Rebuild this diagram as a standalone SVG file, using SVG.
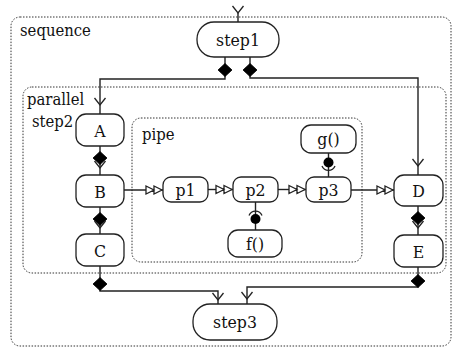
<svg xmlns="http://www.w3.org/2000/svg" width="454" height="348" viewBox="0 0 454 348">
<style>
text{font-family:'DejaVu Serif Condensed','DejaVu Serif',serif;font-size:16.5px;fill:#111}
.c{text-anchor:middle;font-size:17.5px}
.node{fill:#fff;stroke:#222;stroke-width:1.3}
.grp{fill:none;stroke:#333;stroke-width:1;stroke-dasharray:1.5 1.5}
.ln{fill:none;stroke:#222;stroke-width:1.4}
.dia{fill:#000;stroke:#000;stroke-width:0.8}
.v{fill:none;stroke:#222;stroke-width:1.3}
.tri{fill:#fff;stroke:#222;stroke-width:1.3}
.ball{fill:#000}
</style>
<defs>
<path id="dia" d="M0,-6.5 L7,0 L0,6.5 L-7,0 Z"/>
<path id="vd" d="M-5.5,-7 L0,0 L5.5,-7"/>
<path id="tr" d="M-16,-4 L-8,0 L-16,4 Z M-8,-4 L0,0 L-8,4 Z"/>
</defs>

<g id="sequence"><rect class="grp" x="11" y="17" width="440" height="329" rx="9"/><text x="20" y="36">sequence</text></g>
<g id="parallel"><rect class="grp" x="23" y="87" width="423" height="186" rx="9"/><text x="27" y="105">parallel</text></g>
<g id="pipe"><rect class="grp" x="132" y="118" width="230" height="144" rx="9"/><text x="142" y="140">pipe</text></g>

<g id="connectors">
<line class="ln" x1="238" y1="13" x2="238" y2="22"/>
<use href="#vd" class="v" x="238" y="13"/>
<path class="ln" d="M225,57 V79 H100 V114"/>
<use href="#dia" class="dia" x="225" y="70"/>
<use href="#vd" class="v" x="100" y="105"/>
<path class="ln" d="M250,57 V78 H418 V175"/>
<use href="#dia" class="dia" x="250" y="70"/>
<use href="#vd" class="v" x="418" y="166"/>
<path class="ln" d="M100,146 V175"/>
<use href="#dia" class="dia" x="100" y="158"/>
<use href="#vd" class="v" x="100" y="168"/>
<path class="ln" d="M100,207 V234"/>
<use href="#dia" class="dia" x="100" y="219"/>
<use href="#vd" class="v" x="100" y="228"/>
<path class="ln" d="M418,206 V235"/>
<use href="#dia" class="dia" x="418" y="218"/>
<use href="#vd" class="v" x="418" y="228"/>
<path class="ln" d="M100,266 V291 H218 V304"/>
<use href="#dia" class="dia" x="100" y="284"/>
<use href="#vd" class="v" x="218" y="300"/>
<path class="ln" d="M418,267 V287 H247 V304"/>
<use href="#dia" class="dia" x="418" y="281"/>
<use href="#vd" class="v" x="247" y="299"/>
<path class="ln" d="M124,190 H163"/>
<use href="#tr" class="tri" x="162" y="190"/>
<path class="ln" d="M208,189.5 H233"/>
<use href="#tr" class="tri" x="232" y="189.5"/>
<path class="ln" d="M278,189.5 H306"/>
<use href="#tr" class="tri" x="305" y="189.5"/>
<path class="ln" d="M351,190 H394"/>
<use href="#tr" class="tri" x="393" y="190"/>
<path class="ln" d="M328.5,153 V177"/>
<circle class="ball" cx="328.5" cy="162.5" r="5"/>
<path class="v" d="M322,166 A7,7 0 0 0 335,166"/>
<path class="ln" d="M255.5,202 V230"/>
<circle class="ball" cx="255.5" cy="219" r="5"/>
<path class="v" d="M249,215.5 A7,7 0 0 1 262,215.5"/>
</g>

<g id="step1"><rect class="node" x="197" y="22" width="82" height="35" rx="17"/><text class="c" x="238" y="45.5">step1</text></g>
<g id="step2"><text x="32" y="127">step2</text></g>
<g id="A"><rect class="node" x="76" y="114" width="48" height="32" rx="10"/><text class="c" x="100" y="136.5">A</text></g>
<g id="B"><rect class="node" x="76" y="175" width="48" height="32" rx="10"/><text class="c" x="100" y="197.5">B</text></g>
<g id="C"><rect class="node" x="76" y="234" width="48" height="32" rx="10"/><text class="c" x="100" y="256.5">C</text></g>
<g id="D"><rect class="node" x="394" y="175" width="49" height="31" rx="10"/><text class="c" x="418.5" y="197">D</text></g>
<g id="E"><rect class="node" x="394" y="235" width="49" height="32" rx="10"/><text class="c" x="418.5" y="257.5">E</text></g>
<g id="p1"><rect class="node" x="163" y="177" width="45" height="25" rx="8"/><text class="c" x="185.5" y="195.5">p1</text></g>
<g id="p2"><rect class="node" x="233" y="177" width="45" height="25" rx="8"/><text class="c" x="255.5" y="195.5">p2</text></g>
<g id="p3"><rect class="node" x="306" y="177" width="45" height="25" rx="8"/><text class="c" x="328.5" y="195.5">p3</text></g>
<g id="g"><rect class="node" x="301" y="125" width="55" height="28" rx="10"/><text class="c" x="328.5" y="144.5">g()</text></g>
<g id="f"><rect class="node" x="228" y="230" width="54" height="27" rx="10"/><text class="c" x="255" y="249.5">f()</text></g>
<g id="step3"><rect class="node" x="193" y="304" width="84" height="36" rx="17"/><text class="c" x="235" y="328">step3</text></g>
</svg>
